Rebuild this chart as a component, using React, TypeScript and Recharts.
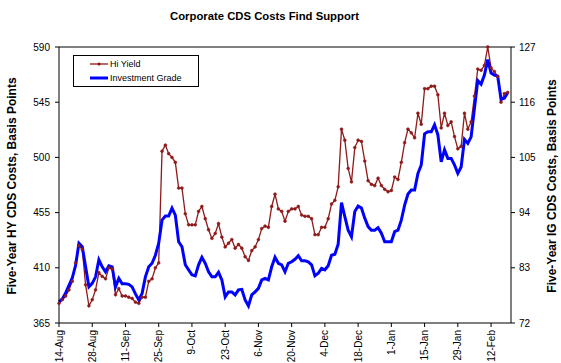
import React from 'react';
import { LineChart, Line, XAxis, YAxis, Legend, ReferenceLine } from 'recharts';

// business-day index 0 = 14-Aug; one tick label every 10 business days
const tickLabels = ['14-Aug', '28-Aug', '11-Sep', '25-Sep', '9-Oct', '23-Oct', '6-Nov', '20-Nov', '4-Dec', '18-Dec', '1-Jan', '15-Jan', '29-Jan', '12-Feb'];

const hiYield = [
  381, 384, 387, 392, 399, 414, 428, 425, 396, 379,
  384, 392, 406, 403, 401, 410, 409, 388, 393, 387,
  387, 386, 385, 382, 381, 386, 386, 399, 401, 410,
  414, 505, 510, 503, 500, 496, 475, 475, 454, 445,
  445, 445, 456, 460, 450, 441, 434, 438, 446, 435,
  427, 430, 433, 426, 429, 426, 419, 416, 424, 427,
  433, 442, 444, 443, 460, 470, 458, 456, 448, 456,
  458, 458, 460, 453, 452, 452, 450, 437, 437, 443,
  443, 450, 462, 465, 476, 523, 514, 491, 480, 508,
  514, 513, 497, 481, 478, 477, 483, 477, 474, 472,
  473, 484, 482, 496, 512, 523, 520, 516, 536, 527,
  556, 556, 558, 558, 551, 524, 536, 526, 529, 517,
  507, 509, 536, 523, 529, 550, 572, 571, 575, 590,
  573, 570, 566, 545, 552, 553,
];

const invGrade = [
  76.2, 76.8, 78.0, 79.5, 81.0, 83.5, 87.9, 87.2, 83.2, 79.2,
  79.9, 81.2, 84.6, 83.2, 82.2, 83.4, 83.2, 79.2, 80.9, 79.8,
  79.8, 79.7, 79.2, 77.8, 76.6, 77.9, 81.2, 83.2, 83.9, 85.5,
  87.9, 92.5, 93.3, 93.3, 94.9, 93.5, 88.2, 87.2, 83.6, 82.6,
  81.6, 81.4, 83.6, 85.1, 83.9, 82.2, 81.2, 81.2, 82.1, 80.6,
  77.2, 78.2, 78.2, 77.6, 78.6, 78.7, 76.6, 75.4, 77.6, 78.2,
  78.9, 80.6, 80.9, 80.6, 83.2, 85.1, 83.9, 83.6, 82.2, 83.9,
  84.2, 84.7, 85.4, 84.4, 84.4, 84.2, 83.6, 81.4, 81.9, 82.9,
  82.6, 83.4, 85.5, 85.7, 87.7, 96.0, 93.2, 90.5, 89.2, 94.2,
  95.3, 94.9, 92.9, 91.2, 90.5, 90.5, 91.0, 89.9, 88.2, 88.2,
  88.2, 90.2, 90.5, 92.5, 95.5, 97.7, 98.5, 98.5, 101.8, 103.5,
  109.7, 110.1, 110.1, 111.5, 109.5, 104.1, 106.5, 104.8, 104.8, 103.5,
  101.8, 103.1, 108.6, 107.8, 109.1, 114.8, 120.3, 119.6, 121.4, 124.5,
  121.8, 121.4, 121.2, 116.6, 116.8, 117.9,
];

const hyTicks = [365, 410, 455, 500, 545, 590];
const igTicks = [72, 83, 94, 105, 116, 127];

const rows = hiYield.map((v, i) => ({ i, hy: v, ig: invGrade[i] }));

const FONT = '"Liberation Sans", Arial, sans-serif';
const RED = '#8f1a1a';
const BLUE = '#0000ff';

const DateTick = (props: any) => {
  const { x, y, payload } = props;
  const label = tickLabels[Math.round(payload.value / 10)];
  return (
    <text
      x={x}
      y={y}
      transform={`rotate(-90 ${x} ${y})`}
      textAnchor="end"
      dy="0.35em"
      fontSize={10}
      fontFamily={FONT}
      fill="#000"
    >
      {label}
    </text>
  );
};

const renderLegend = (props: any) => {
  const { payload } = props;
  return (
    <div style={{ border: '1px solid #000', background: '#fff', width: 124, padding: '1px 0', fontFamily: FONT, fontSize: 9 }}>
      {payload.map((e: any) => (
        <div key={e.value} style={{ display: 'flex', alignItems: 'center', height: 14 }}>
          <svg width={36} height={10}>
            <line x1={16} x2={34} y1={5} y2={5} stroke={e.color} strokeWidth={e.dataKey === 'ig' ? 3 : 1.3} />
            {e.dataKey === 'hy' && <circle cx={25} cy={5} r={1.6} fill={e.color} />}
          </svg>
          <span>{e.value}</span>
        </div>
      ))}
    </div>
  );
};

export default function App() {
  return (
    <div style={{ position: 'absolute', left: 0, top: 0, width: 561, height: 363, background: '#fff', fontFamily: FONT }}>
      <div style={{ position: 'absolute', top: 10, left: -16, width: 561, textAlign: 'center', fontWeight: 'bold', fontSize: 11.3 }}>
        Corporate CDS Costs Find Support
      </div>
      <div
        style={{
          position: 'absolute', left: 12, top: 186, fontWeight: 'bold', fontSize: 12, whiteSpace: 'nowrap',
          transform: 'translate(-50%, -50%) rotate(-90deg)',
        }}
      >
        Five-Year HY CDS Costs, Basis Points
      </div>
      <div
        style={{
          position: 'absolute', left: 552, top: 186, fontWeight: 'bold', fontSize: 12, whiteSpace: 'nowrap',
          transform: 'translate(-50%, -50%) rotate(-90deg)',
        }}
      >
        Five-Year IG CDS Costs, Basis Points
      </div>
      <LineChart width={561} height={363} data={rows} margin={{ top: 47, right: 0, bottom: 0, left: 0 }}>
        <XAxis
          dataKey="i"
          type="number"
          domain={[0, 136]}
          ticks={[0, 10, 20, 30, 40, 50, 60, 70, 80, 90, 100, 110, 120, 130]}
          height={40}
          tick={<DateTick />}
          tickSize={4}
          tickMargin={3}
          axisLine={{ stroke: '#000' }}
          tickLine={{ stroke: '#000' }}
          interval={0}
        />
        <YAxis
          yAxisId="left"
          domain={[365, 590]}
          ticks={hyTicks}
          width={59}
          tickSize={4}
          tickMargin={5}
          axisLine={{ stroke: '#000' }}
          tickLine={{ stroke: '#000' }}
          tick={{ fill: '#000', fontSize: 10, fontFamily: FONT }}
          interval={0}
        />
        <YAxis
          yAxisId="right"
          orientation="right"
          domain={[72, 127]}
          ticks={igTicks}
          width={50}
          tickSize={4}
          tickMargin={4}
          axisLine={{ stroke: '#000' }}
          tickLine={{ stroke: '#000' }}
          tick={{ fill: '#000', fontSize: 10, fontFamily: FONT, textAnchor: 'start' }}
          interval={0}
        />
        <ReferenceLine yAxisId="left" y={590} stroke="#808080" strokeWidth={2} />
        <Legend
          layout="horizontal"
          verticalAlign="middle"
          align="center"
          content={renderLegend}
          wrapperStyle={{ position: 'absolute', left: 73, top: 55, width: 'auto', height: 'auto' }}
        />
        <Line
          yAxisId="left"
          dataKey="hy"
          name="Hi Yield"
          type="linear"
          stroke={RED}
          strokeWidth={1.3}
          dot={{ r: 1.4, fill: RED, stroke: RED, strokeWidth: 0.6 }}
          isAnimationActive={false}
        />
        <Line
          yAxisId="right"
          dataKey="ig"
          name="Investment Grade"
          type="linear"
          stroke={BLUE}
          strokeWidth={3}
          dot={false}
          isAnimationActive={false}
        />
      </LineChart>
    </div>
  );
}
